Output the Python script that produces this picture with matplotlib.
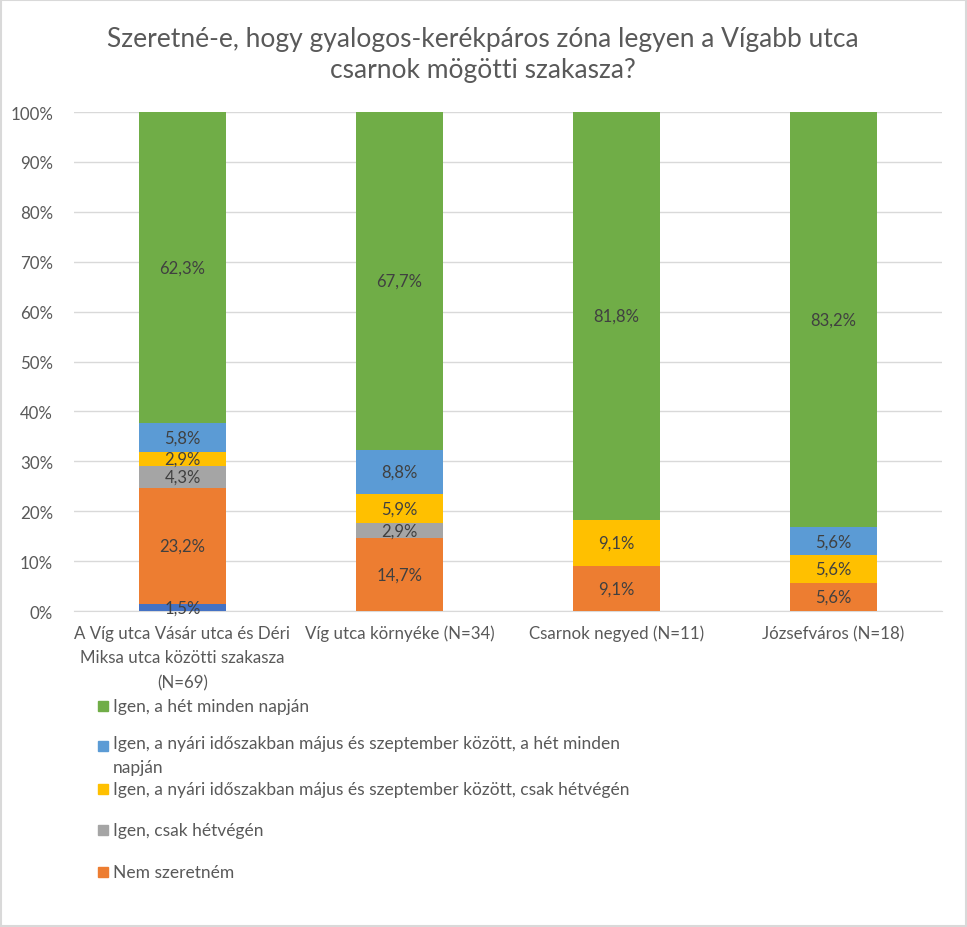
import matplotlib.pyplot as plt
from matplotlib.patches import Rectangle
import numpy as np

plt.rcParams['font.family'] = ['Lato', 'DejaVu Sans']

categories = ["A Víg utca Vásár utca és Déri\nMiksa utca közötti szakasza\n(N=69)",
              "Víg utca környéke (N=34)",
              "Csarnok negyed (N=11)",
              "Józsefváros (N=18)"]

# stacked bottom to top
other = [1.5, 0, 0, 0]
nem_szeretnem = [23.2, 14.7, 9.1, 5.6]
csak_hetvegen = [4.3, 2.9, 0, 0]
nyari_hetvegen = [2.9, 5.9, 9.1, 5.6]
nyari_minden = [5.8, 8.8, 0, 5.6]
minden_nap = [62.3, 67.7, 81.8, 83.2]

series = [
    (None, other, '#4472C4'),
    ("Nem szeretném", nem_szeretnem, '#ED7D31'),
    ("Igen, csak hétvégén", csak_hetvegen, '#A5A5A5'),
    ("Igen, a nyári időszakban május és szeptember között, csak hétvégén", nyari_hetvegen, '#FFC000'),
    ("Igen, a nyári időszakban május és szeptember között, a hét minden\nnapján", nyari_minden, '#5B9BD5'),
    ("Igen, a hét minden napján", minden_nap, '#70AD47'),
]

txt = '#595959'
fig = plt.figure(figsize=(9.67, 9.28), dpi=100)
ax = fig.add_axes([0.0765, 0.3405, 0.8975, 0.5377])

x = np.arange(len(categories))
bottom = np.zeros(len(categories))
for name, vals, col in series:
    vals = np.array(vals, dtype=float)
    ax.bar(x, vals, 0.4, bottom=bottom, color=col, zorder=3)
    for xi, v, b in zip(x, vals, bottom):
        if v > 0:
            ax.text(xi, b + v / 2, f"{v:.1f}%".replace('.', ','), ha='center', va='center',
                    fontsize=12, color='#404040', zorder=4)
    bottom += vals

ax.set_xlim(-0.5, 3.5)
ax.set_ylim(0, 100)
ax.set_yticks(np.arange(0, 101, 10))
ax.set_yticklabels([f"{v}%" for v in range(0, 101, 10)])
ax.set_xticks(x)
ax.set_xticklabels(categories, linespacing=1.65)
ax.tick_params(axis='both', length=0, labelsize=12.2, colors=txt)
ax.tick_params(axis='x', pad=10)
ax.tick_params(axis='y', pad=15)
ax.grid(axis='y', color='#D9D9D9', linewidth=1, zorder=0)
for s in ['top', 'right', 'left']:
    ax.spines[s].set_visible(False)
ax.spines['bottom'].set_color('#D9D9D9')

fig.text(0.4995, 1 - 55 / 928, "Szeretné-e, hogy gyalogos-kerékpáros zóna legyen a Vígabb utca\ncsarnok mögötti szakasza?",
         ha='center', va='center', fontsize=19, color=txt, linespacing=1.3)

# legend, top entry first
leg_y = [707, 747, 790, 831, 873]
for (name, vals, col), yp in zip(series[:0:-1], leg_y):
    fig.patches.append(Rectangle((98 / 967, 1 - (yp + 5) / 928), 10 / 967, 10 / 928,
                                 transform=fig.transFigure, color=col))
    fig.text(113 / 967, 1 - (yp - 11) / 928 if '\n' in name else 1 - yp / 928, name, ha='left',
             va='top' if '\n' in name else 'center',
             fontsize=12.5, color=txt, linespacing=1.65)

fig.patches.append(Rectangle((0.001, 0.001), 0.998, 0.998, transform=fig.transFigure,
                             fill=False, edgecolor='#D9D9D9', linewidth=1.5))

fig.savefig('out.png')
